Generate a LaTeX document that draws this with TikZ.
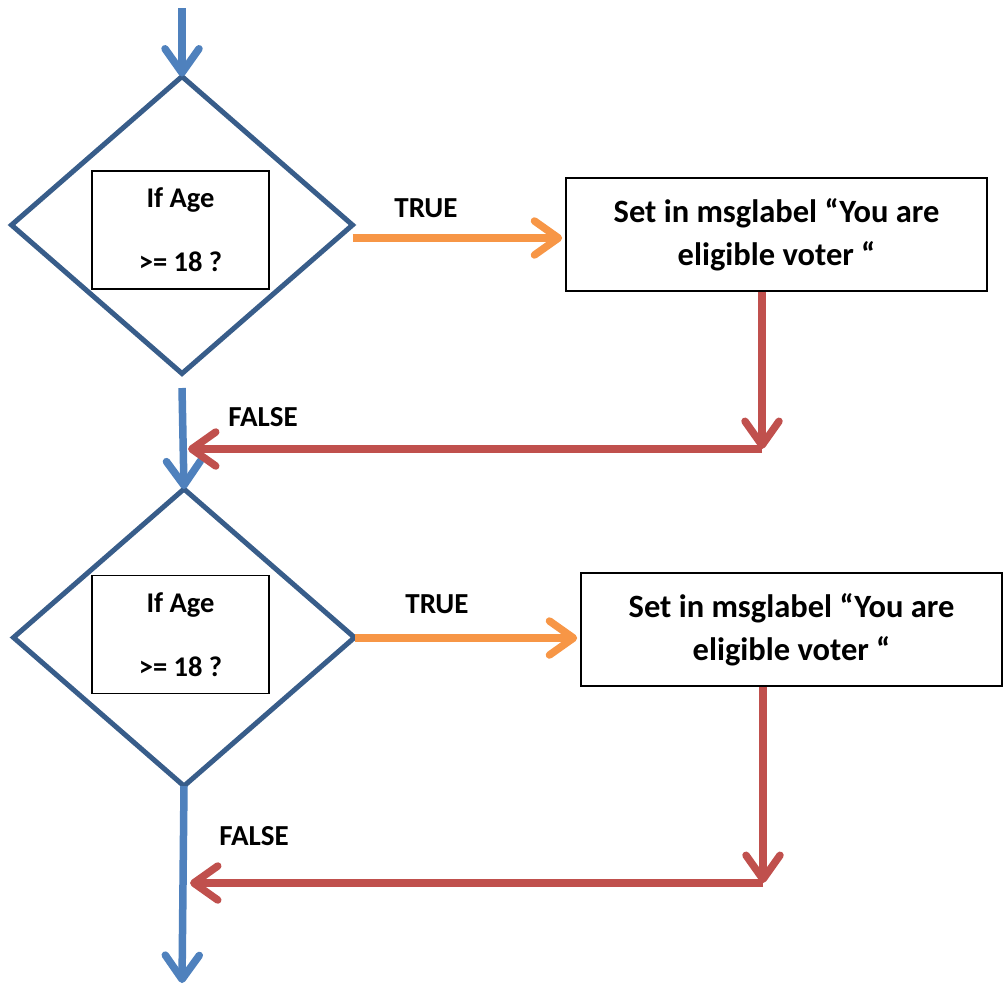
\documentclass[tikz,border=0pt]{standalone}
\usepackage{fontspec}
\setmainfont{Carlito}
\usetikzlibrary{shapes.geometric,arrows.meta,calc}

\definecolor{decline}{HTML}{385D8A}
\definecolor{flowblue}{HTML}{4F81BD}
\definecolor{trueorange}{HTML}{F79646}
\definecolor{falsered}{HTML}{C0504D}

\tikzset{
  decision/.style={diamond, draw=decline, line width=5pt, outer sep=0pt, inner sep=0pt,
    minimum width=341pt, minimum height=297pt},
  condbox/.style={rectangle, draw=black, line width=1.5pt, minimum width=177pt,
    minimum height=118pt, align=center, font=\bfseries\fontsize{28.5}{33}\selectfont,
    inner sep=0pt},
  actionbox/.style={rectangle, draw=black, line width=1.6pt, minimum width=421pt,
    minimum height=113pt, align=center, font=\bfseries\fontsize{32.5}{43}\selectfont,
    inner sep=0pt},
  flowlabel/.style={font=\bfseries\fontsize{29}{32}\selectfont, inner sep=0pt},
  tipstyle/.style={-{Straight Barb[length=24pt, width=34pt, round]}, line width=7.5pt},
  flowarrow/.style={tipstyle, draw=flowblue},
  truearrow/.style={tipstyle, draw=trueorange},
  falsearrow/.style={tipstyle, draw=falsered},
}

\begin{document}
\begin{tikzpicture}[x=1pt, y={(0pt,-1pt)}]
  \useasboundingbox (0,0) rectangle (1006,986);

  % first decision
  \node[decision] (d1) at (182,225) {};
  \node[condbox] (c1) at (180.5,230) {If Age\\[31pt]>= 18 ?};
  \node[actionbox] (A) at (776.5,234.5) {Set in msglabel “You are\\eligible voter “};

  % second decision
  \node[decision] (d2) at (184,637.5) {};
  \node[condbox] (c2) at (180.5,634.5) {If Age\\[31pt]>= 18 ?};
  \node[actionbox] (B) at (791.5,629.5) {Set in msglabel “You are\\eligible voter “};

  % labels
  \node[flowlabel] (t1) at (426,208) {TRUE};
  \node[flowlabel] (f1) at (263,417) {FALSE};
  \node[flowlabel] (t2) at (437,604) {TRUE};
  \node[flowlabel] (f2) at (254,836) {FALSE};

  % free ends and corners
  \coordinate (start) at (182,8);
  \coordinate (mid) at (182,388);
  \coordinate (finish) at (182,983);
  \coordinate (k1) at (762,449);
  \coordinate (k2) at (763,883);
  \coordinate (a1) at ($(A.west)+(-3,3.5)$);
  \coordinate (a2) at ($(B.west)+(-3,8.5)$);

  % main flow
  \draw[flowarrow] (start) -- (d1.north);
  \draw[flowarrow] (mid) -- (d2.north);
  \draw[flowarrow] (d2.south) -- (finish);

  % true branches
  \draw[truearrow] (d1.east |- a1) -- (a1);
  \draw[truearrow] (d2.east |- a2) -- (a2);

  % false / return branches
  \draw[falsearrow] (k1 |- A.south) -- (k1);
  \draw[falsearrow] (k1) -- ($(d1.south |- k1)+(6,0)$);
  \draw[falsearrow] (k2 |- B.south) -- (k2);
  \draw[falsearrow] (k2) -- ($(d2.south |- k2)+(6,0)$);
\end{tikzpicture}
\end{document}
